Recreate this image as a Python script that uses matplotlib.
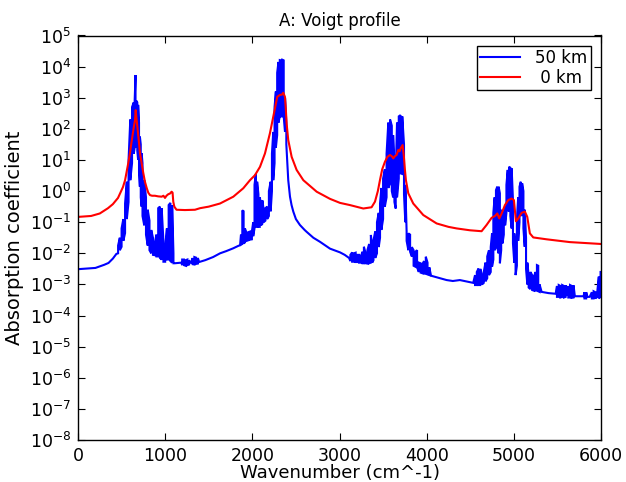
import numpy as np
import matplotlib
matplotlib.use("Agg")
import matplotlib.pyplot as plt
from matplotlib.ticker import NullLocator, FixedLocator

# ---------------- data ----------------
# 0 km curve: wavenumber (cm^-1) and log10(absorption coefficient)
red_x = [0, 150, 250, 344, 400, 459, 516, 540, 562, 580, 596, 610, 623, 640, 654, 662,
         672, 685, 698, 711, 730, 749, 768, 788, 806, 826, 850, 883, 920, 960, 980, 998,
         1015, 1036, 1055, 1074, 1085, 1093, 1105, 1130, 1227, 1342, 1400, 1500, 1629,
         1782, 1896, 1973, 2030, 2088, 2145, 2202, 2248, 2286, 2317, 2340, 2355, 2374,
         2385, 2393, 2412, 2451, 2508, 2585, 2738, 2891, 3006, 3120, 3273, 3368, 3407,
         3440, 3464, 3490, 3521, 3550, 3579, 3600, 3617, 3635, 3655, 3674, 3690, 3701,
         3724, 3739, 3750, 3762, 3789, 3846, 3961, 4114, 4250, 4343, 4496, 4630, 4687,
         4745, 4783, 4810, 4833, 4860, 4898, 4936, 4974, 5001, 5024, 5051, 5089, 5127,
         5154, 5184, 5223, 5376, 5643, 6000]
red_exp = [-0.83, -0.8, -0.72, -0.55, -0.42, -0.22, 0.13, 0.35, 0.68, 0.95, 1.22, 1.5,
           1.74, 2.05, 2.28, 2.6, 2.3, 1.96, 1.6, 1.22, 0.9, 0.58, 0.3, 0.1, -0.05, -0.13,
           -0.15, -0.15, -0.17, -0.18, -0.15, -0.22, -0.15, -0.1, -0.08, -0.02, -0.05,
           -0.34, -0.5, -0.6, -0.61, -0.6, -0.55, -0.5, -0.4, -0.18, 0.09, 0.35, 0.51,
           0.78, 1.21, 1.86, 2.5, 3.03, 3.09, 3.1, 3.16, 3.03, 2.6, 2.18, 1.64, 1.1, 0.68,
           0.35, -0.02, -0.25, -0.38, -0.45, -0.56, -0.52, -0.34, 0.0, 0.35, 0.7, 0.94,
           1.1, 1.16, 1.12, 1.05, 1.12, 1.16, 1.32, 1.28, 1.37, 1.48, 1.1, 0.7, 0.35,
           -0.07, -0.4, -0.77, -1.04, -1.15, -1.2, -1.26, -1.29, -1.09, -0.86, -0.8,
           -0.72, -0.88, -0.72, -0.45, -0.29, -0.24, -0.29, -0.97, -0.88, -0.7, -0.66,
           -0.83, -1.36, -1.49, -1.55, -1.64, -1.7]

# 50 km curve: wavenumber, lower and upper log10 envelope of the dense line forest
# (lower == upper where the curve is smooth)
blue_x = [0, 100, 200, 300, 350, 400, 440,
          460, 480, 500, 520, 540, 560, 580, 600, 620, 640, 650, 660, 670, 680, 690, 700,
          710, 720, 730, 740, 760, 780, 800, 820, 840, 860, 880, 900, 920, 940, 960, 980,
          1000, 1020, 1040, 1060, 1080, 1095, 1110, 1150, 1185,
          1195, 1215, 1235, 1255, 1275, 1290, 1305, 1315, 1335, 1355, 1375, 1390,
          1460, 1550, 1630, 1700, 1780, 1840, 1860,
          1870, 1885, 1900, 1915, 1935, 1955, 1975, 1995, 2010, 2025, 2040, 2055, 2070,
          2085, 2100, 2115, 2130, 2150, 2170, 2190, 2210, 2225, 2240, 2255, 2270, 2285,
          2300, 2315, 2330, 2345, 2360, 2375, 2390, 2400,
          2412, 2432, 2450, 2470, 2500, 2546, 2600, 2623, 2700, 2776, 2891, 3006, 3060, 3110,
          3125, 3145, 3165, 3185, 3205, 3225, 3245, 3265, 3280, 3300, 3320, 3340, 3360,
          3375, 3390, 3410, 3430, 3450, 3465, 3480, 3500, 3520, 3540, 3560, 3580, 3600,
          3615, 3630, 3645, 3660, 3680, 3700, 3720, 3740, 3755, 3770, 3790, 3810, 3830,
          3850, 3870, 3890, 3910, 3930, 3950, 3970, 3990, 4010, 4030,
          4050, 4150, 4229, 4300, 4381, 4450, 4534,
          4555, 4575, 4595, 4615, 4635, 4655, 4675, 4695, 4715, 4735, 4750, 4765, 4780,
          4795, 4810, 4825, 4840, 4855, 4870, 4885, 4900, 4915, 4930, 4945, 4960, 4975,
          4990, 5005, 5020, 5035, 5050, 5065, 5080, 5095, 5110, 5125, 5140, 5155, 5170,
          5190, 5210, 5230, 5250, 5265, 5280, 5295,
          5319, 5400, 5480,
          5495, 5515, 5535, 5555, 5575, 5595, 5610, 5625, 5645, 5665, 5685, 5700,
          5750, 5800, 5810, 5830, 5845, 5870, 5895, 5915, 5935, 5955, 5975, 5995]
blue_lo = [-2.51, -2.49, -2.47, -2.37, -2.31, -2.17, -2.02,
           -2.0, -1.9, -1.79, -1.6, -1.35, -0.9, -0.35, 0.35, 0.9, 1.2, 1.4, 1.45, 1.4,
           1.3, 1.0, 0.6, 0.14, -0.2, -0.5, -0.8, -1.1, -1.4, -1.75, -1.9, -2.0, -2.05,
           -2.06, -2.1, -2.1, -2.15, -2.2, -2.27, -2.27, -2.2, -2.2, -2.25, -2.3, -2.32,
           -2.32, -2.31, -2.3,
           -2.38, -2.38, -2.4, -2.38, -2.36, -2.3, -2.3, -2.35, -2.36, -2.34, -2.33, -2.28,
           -2.22, -2.12, -2.0, -1.93, -1.84, -1.76, -1.74,
           -1.72, -1.7, -1.68, -1.65, -1.6, -1.58, -1.56, -1.55, -1.45, -1.2, -1.15, -1.15,
           -1.15, -1.15, -1.1, -1.05, -1.0, -0.95, -0.9, -0.8, -0.65, 0.0, 0.35, 0.9, 1.4,
           1.8, 2.2, 2.4, 2.4, 2.4, 2.4, 1.9, 1.5, 1.0,
           0.35, -0.18, -0.45, -0.66, -0.9, -1.09, -1.25, -1.31, -1.5, -1.63, -1.85, -1.97,
           -2.05, -2.15,
           -2.25, -2.27, -2.27, -2.28, -2.28, -2.3, -2.3, -2.32, -2.32, -2.32, -2.33, -2.32,
           -2.3, -2.3, -2.22, -2.15, -2.0, -1.8, -1.5, -1.25, -0.9, -0.5, -0.2, 0.1, 0.25,
           0.0, -0.2, -0.35, -0.56, -0.2, 0.4, 0.57, 0.55, -0.1, -1.0, -1.6, -1.9, -1.95,
           -2.1, -2.4, -2.43, -2.45, -2.6, -2.62, -2.64, -2.65, -2.66, -2.68, -2.7,
           -2.72, -2.8, -2.86, -2.89, -2.86, -2.9, -2.95,
           -3.02, -3.02, -3.02, -3.02, -3.0, -2.95, -2.9, -2.8, -2.7, -2.6, -2.43, -2.2,
           -1.9, -1.79, -1.8, -2.0, -2.32, -1.9, -1.68, -1.4, -1.1, -0.7, -0.61, -0.65,
           -0.8, -1.2, -1.68, -2.3, -2.7, -2.4, -1.6, -1.0, -0.7, -0.8, -1.2, -1.79, -2.5,
           -3.0, -3.1, -3.15, -3.18, -3.2, -3.2, -3.2, -3.22, -3.24,
           -3.24, -3.28, -3.3,
           -3.4, -3.4, -3.42, -3.4, -3.42, -3.4, -3.35, -3.42, -3.42, -3.43, -3.42, -3.38,
           -3.38, -3.38, -3.45, -3.45, -3.4, -3.4, -3.45, -3.45, -3.45, -3.4, -3.45, -3.4]
blue_hi = [-2.51, -2.49, -2.47, -2.37, -2.31, -2.17, -2.02,
           -1.75, -1.5, -1.2, -0.9, -0.4, 0.3, 1.0, 2.3, 2.7, 2.85, 2.9, 3.73, 2.9, 2.85,
           2.77, 2.2, 1.75, 1.5, 1.22, 0.9, 0.35, -0.2, -0.6, -0.95, -1.25, -1.5, -1.67,
           -1.4, -0.55, -0.5, -0.55, -1.6, -1.8, -1.2, -0.45, -0.38, -0.45, -2.0,
           -2.32, -2.31, -2.3,
           -2.2, -2.2, -2.22, -2.2, -2.22, -2.3, -2.3, -2.15, -2.12, -2.14, -2.15, -2.28,
           -2.22, -2.12, -2.0, -1.93, -1.84, -1.76, -1.74,
           -1.4, -0.62, -0.65, -1.2, -1.35, -1.32, -1.3, -1.3, -1.0, 0.2, 0.55, 0.3, -0.1,
           -0.2, -0.4, -0.3, -0.6, -0.55, -0.5, 0.0, 0.3, 1.2, 1.9, 2.7, 3.2, 3.8, 4.15,
           4.21, 4.2, 4.22, 4.2, 3.0, 2.2, 1.0,
           0.35, -0.18, -0.45, -0.66, -0.9, -1.09, -1.25, -1.31, -1.5, -1.63, -1.85, -1.97,
           -2.05, -2.15,
           -2.05, -1.97, -2.0, -1.98, -2.05, -2.05, -2.1, -1.95, -1.79, -2.0, -1.9, -1.7,
           -1.41, -1.8, -1.58, -1.3, -1.0, -0.7, -0.4, 0.1, 0.4, 0.7, 1.2, 2.2, 2.3, 2.1,
           1.8, 0.9, 0.5, 2.2, 2.4, 2.44, 2.4, 1.5, 0.2, -1.3, -1.36, -1.4, -1.8, -1.9,
           -1.95, -1.9, -2.3, -2.32, -2.35, -2.25, -2.11, -2.3, -2.45,
           -2.72, -2.8, -2.86, -2.89, -2.86, -2.9, -2.95,
           -2.7, -2.6, -2.49, -2.5, -2.7, -2.6, -2.3, -2.1, -1.9, -1.8, -1.36, -0.7, -0.2,
           0.03, 0.14, 0.14, -0.07, -0.6, -1.04, -0.7, -0.5, 0.2, 0.68, 0.78, 0.75, 0.73,
           -0.29, -1.36, -2.0, -0.9, -0.2, 0.14, 0.3, 0.25, 0.0, -0.6, -1.5, -2.3, -2.7,
           -2.6, -2.7, -2.75, -2.6, -2.38, -2.4, -3.0,
           -3.24, -3.28, -3.3,
           -3.05, -3.02, -3.05, -3.02, -3.05, -3.03, -3.35, -3.05, -3.02, -3.05, -3.03,
           -3.38, -3.38, -3.38, -3.25, -3.25, -3.4, -3.4, -3.25, -3.22, -3.25, -3.3, -2.75,
           -2.6]

series_labels = ["50 km", " 0 km"]
title_text = "A: Voigt profile"
xlabel_text = "Wavenumber (cm^-1)"
ylabel_text = "Absorption coefficient"
xticks = [0, 1000, 2000, 3000, 4000, 5000, 6000]
ydecades = list(range(-8, 6))

# ---------------- build the dense blue path from the envelopes ----------------
bx, by = [], []
flip = False
for x, lo, hi in zip(blue_x, blue_lo, blue_hi):
    if lo == hi:
        bx.append(x); by.append(lo)
    else:
        first, second = (hi, lo) if flip else (lo, hi)
        bx += [x, x]; by += [first, second]
        flip = not flip
bx = np.array(bx, dtype=float)
by = 10.0 ** np.array(by)
rx = np.array(red_x, dtype=float)
ry = 10.0 ** np.array(red_exp)

# ---------------- plot ----------------
fig = plt.figure(figsize=(6.26, 4.82), dpi=100)
ax = fig.add_axes([78 / 626, 1 - 440 / 482, 523 / 626, 404.5 / 482])

ax.plot(bx, by, color=(0, 0, 1), lw=1.5, label=series_labels[0], solid_joinstyle="miter")
ax.plot(rx, ry, color=(1, 0, 0), lw=1.5, label=series_labels[1])

ax.set_yscale("log")
ax.set_xlim(0, 6000)
ax.set_ylim(1e-8, 1e5)
ax.set_xticks(xticks)
ax.set_xticklabels([str(t) for t in xticks])
ax.yaxis.set_major_locator(FixedLocator([10.0 ** k for k in ydecades]))
ax.set_yticklabels([r"$10^{%d}$" % k for k in ydecades])
ax.yaxis.set_minor_locator(NullLocator())
ax.xaxis.set_minor_locator(NullLocator())

ax.tick_params(which="major", direction="in", length=5, width=0.8,
               top=True, right=True, labelsize=12.5, pad=5, colors="black")
for s in ax.spines.values():
    s.set_linewidth(1.0)
    s.set_color("black")

ax.set_title(title_text, fontsize=12, pad=7)
ax.set_xlabel(xlabel_text, fontsize=13, labelpad=-1)
ax.set_ylabel(ylabel_text, fontsize=14, labelpad=4)

leg = ax.legend(loc="upper right", fontsize=12, fancybox=False, framealpha=1,
                edgecolor="black", handlelength=2.4, borderaxespad=0.6,
                borderpad=0.2, labelspacing=0.1, handletextpad=0.9)
leg.get_frame().set_linewidth(1.0)

fig.savefig("out.png", dpi=100)
